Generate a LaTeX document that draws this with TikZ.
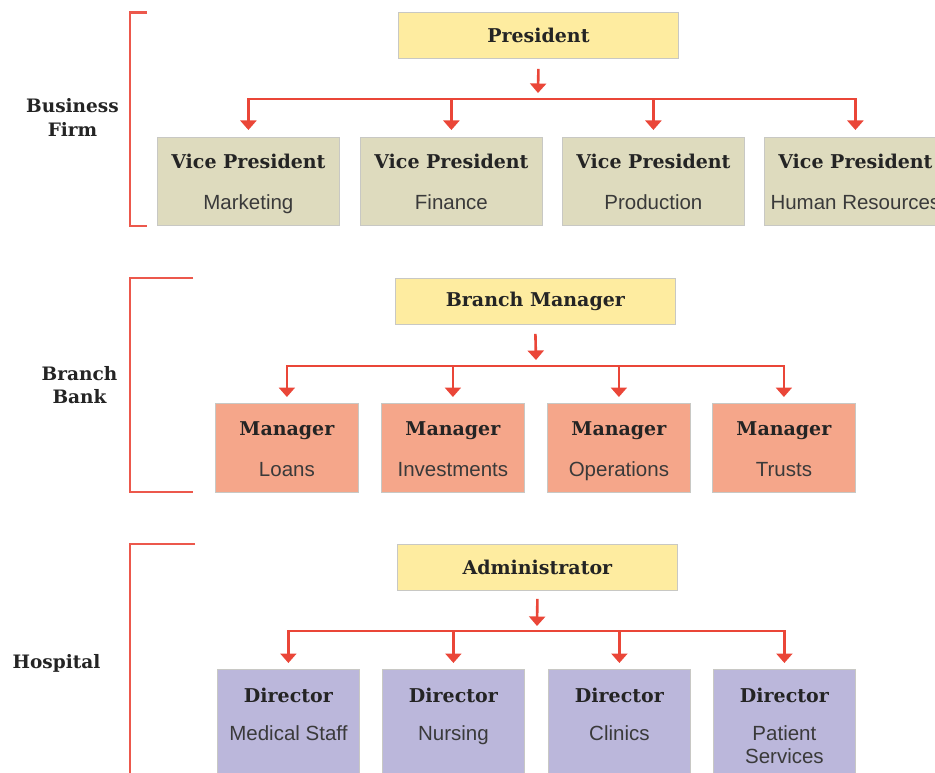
\documentclass[tikz,border=0pt]{standalone}
\usepackage{fontspec}
\setmainfont{Liberation Sans}
\newfontfamily\hdfont{DejaVu Serif}
\usetikzlibrary{arrows.meta}

\definecolor{topfill}{RGB}{254,236,160}
\definecolor{vpfill}{RGB}{222,219,190}
\definecolor{mgrfill}{RGB}{245,166,138}
\definecolor{dirfill}{RGB}{187,183,219}
\definecolor{linkred}{RGB}{234,70,56}
\definecolor{brkred}{RGB}{236,88,76}
\definecolor{ink}{RGB}{36,36,36}
\definecolor{subink}{RGB}{58,58,58}
\definecolor{edge}{RGB}{200,200,196}

\tikzset{
  box/.style={draw=edge, line width=0.8pt, inner sep=0pt, anchor=north west},
  topbox/.style={box, fill=topfill, minimum width=280pt, minimum height=46pt,
                 font=\hdfont\bfseries\fontsize{19}{22}\selectfont, text=ink},
  vpbox/.style={box, fill=vpfill, minimum width=182pt, minimum height=88pt},
  mgrbox/.style={box, fill=mgrfill, minimum width=143pt, minimum height=89pt},
  dirbox/.style={box, fill=dirfill, minimum width=142pt, minimum height=120pt},
  hd/.style={anchor=base, inner sep=0pt, text=ink,
             font=\hdfont\bfseries\fontsize{19}{22}\selectfont},
  sub/.style={anchor=base, inner sep=0pt, text=subink,
              font=\fontsize{20.5}{24}\selectfont},
  lbl/.style={anchor=base, inner sep=0pt, text=ink,
              font=\hdfont\bfseries\fontsize{18.5}{22}\selectfont},
  arr/.style={draw=linkred, line width=2.6pt,
              -{Triangle[width=16pt,length=9.5pt]}},
  bracket/.style={draw=brkred, line width=2.4pt},
}

\begin{document}
\begin{tikzpicture}[x=1pt,y=-1pt]
\useasboundingbox (0,0) rectangle (935,773);

% ---------- Business firm ----------
\draw[bracket] (147,12.5) -- (130,12.5) -- (130,226) -- (147,226);
\node[lbl] (firmA) at (72.5,113) {Business};
\node[lbl] (firmB) at (72.5,137) {Firm};

\node[topbox] (pres) at (398,12) {President};
\node[vpbox] (vp1) at (157,137) {};
\node[vpbox] (vp2) at (360,137) {};
\node[vpbox] (vp3) at (562,137) {};
\node[vpbox] (vp4) at (764,137) {};
\foreach \b/\t in {vp1/Marketing,vp2/Finance,vp3/Production,vp4/Human Resources}{
  \node[hd] (\b h) at ([yshift=-31pt]\b.north) {Vice President};
  \node[sub] (\b s) at ([yshift=-73pt]\b.north) {\t};
}
\coordinate (bus1) at (538,99);
\draw[arr] ([yshift=-10pt]pres.south) -- ([yshift=6pt]bus1);
\draw[arr] (bus1) -| ([yshift=7pt]vp1.north);
\draw[arr] (bus1) -| ([yshift=7pt]vp4.north);
\draw[arr] (vp2.north |- bus1) -- ([yshift=7pt]vp2.north);
\draw[arr] (vp3.north |- bus1) -- ([yshift=7pt]vp3.north);

% ---------- Branch bank ----------
\draw[bracket] (193,278) -- (130,278) -- (130,492) -- (193,492);
\node[lbl] (bankA) at (79.5,380) {Branch};
\node[lbl] (bankB) at (79.5,403) {Bank};

\node[topbox] (bmgr) at (395,278) {Branch Manager};
\node[mgrbox] (m1) at (215,403) {};
\node[mgrbox] (m2) at (381,403) {};
\node[mgrbox] (m3) at (547,403) {};
\node[mgrbox] (m4) at (712,403) {};
\foreach \b/\t in {m1/Loans,m2/Investments,m3/Operations,m4/Trusts}{
  \node[hd] (\b h) at ([yshift=-32pt]\b.north) {Manager};
  \node[sub] (\b s) at ([yshift=-73pt]\b.north) {\t};
}
\coordinate (bus2) at (536,366);
\draw[arr] ([yshift=-9pt]bmgr.south) -- ([yshift=6pt]bus2);
\draw[arr] (bus2) -| ([yshift=6pt]m1.north);
\draw[arr] (bus2) -| ([yshift=6pt]m4.north);
\draw[arr] (m2.north |- bus2) -- ([yshift=6pt]m2.north);
\draw[arr] (m3.north |- bus2) -- ([yshift=6pt]m3.north);

% ---------- Hospital ----------
\draw[bracket] (195,544) -- (130,544) -- (130,790);
\node[lbl] (hosp) at (56.5,668) {Hospital};

\node[topbox] (admin) at (397,544) {Administrator};
\node[dirbox] (d1) at (217,669) {};
\node[dirbox] (d2) at (382,669) {};
\node[dirbox] (d3) at (548,669) {};
\node[dirbox] (d4) at (713,669) {};
\foreach \b/\t in {d1/Medical Staff,d2/Nursing,d3/Clinics,d4/Patient}{
  \node[hd] (\b h) at ([yshift=-33pt]\b.north) {Director};
  \node[sub] (\b s) at ([yshift=-71pt]\b.north) {\t};
}
\node[sub] (d4t) at ([yshift=-94pt]d4.north) {Services};
\coordinate (bus3) at (537,631);
\draw[arr] ([yshift=-8pt]admin.south) -- ([yshift=5pt]bus3);
\draw[arr] (bus3) -| ([yshift=6pt]d1.north);
\draw[arr] (bus3) -| ([yshift=6pt]d4.north);
\draw[arr] (d2.north |- bus3) -- ([yshift=6pt]d2.north);
\draw[arr] (d3.north |- bus3) -- ([yshift=6pt]d3.north);
\end{tikzpicture}
\end{document}
